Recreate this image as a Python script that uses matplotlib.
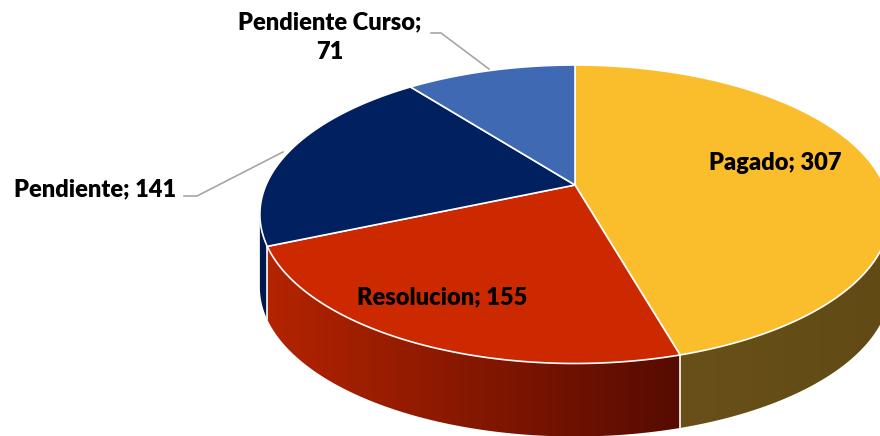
import numpy as np
import matplotlib.pyplot as plt
from matplotlib.patches import Polygon
from matplotlib.colors import to_rgb

# data
labels = ['Pagado', 'Resolucion', 'Pendiente', 'Pendiente Curso']
values = [307, 155, 141, 71]
top_colors = ['#FABD2C', '#CC2900', '#002060', '#3F69B2']
side_light = ['#695018', '#B42400', '#001B52', '#2F5090']
side_dark = ['#614A14', '#560B00', '#001848', '#2F5090']

plt.rcParams['font.family'] = ['Lato', 'DejaVu Sans']

# projection of the tilted disc (perspective fit by eye)
cx, cy = 575, 185
A, B, k = 309, 143.5, 0.196
depth = 73


def proj(phi):
    d = 1 + k*np.cos(phi)
    return cx + A*np.sin(phi)/d, cy - B*np.cos(phi)/d


fig = plt.figure(figsize=(8.8, 4.36), dpi=100)
ax = fig.add_axes([0, 0, 1, 1])

vals = np.array(values, dtype=float)
edges = np.concatenate([[0], np.cumsum(vals)/vals.sum()*2*np.pi])

# visible side range
phi_r = np.arccos(-k)
phi_l = 2*np.pi - phi_r

# side walls, one gradient per slice clipped to its outline
for i in range(len(values)):
    a0 = max(edges[i], phi_r)
    a1 = min(edges[i+1], phi_l)
    if a1 <= a0:
        continue
    ph = np.linspace(a0, a1, 200)
    x, y = proj(ph)
    pts = list(zip(x, y)) + list(zip(x[::-1], y[::-1] + depth))
    poly = Polygon(pts, closed=True, facecolor='none', edgecolor='none', zorder=1)
    ax.add_patch(poly)
    c0 = np.array(to_rgb(side_light[i]))
    c1 = np.array(to_rgb(side_dark[i]))
    t = np.linspace(0, 1, 256)[:, None]
    grad = (c0*(1-t) + c1*t)[None, :, :]
    im = ax.imshow(grad, extent=(x.min()-1, x.max()+1, y.max()+depth+1, y.min()-1),
                   aspect='auto', zorder=1, interpolation='bilinear')
    im.set_clip_path(poly)

# white seams on the side
for e in edges[1:-1]:
    if phi_r < e < phi_l:
        x, y = proj(e)
        ax.plot([x, x], [y, y+depth], color='white', lw=1.2, zorder=2)

# top faces
for i in range(len(values)):
    ph = np.linspace(edges[i], edges[i+1], 200)
    x, y = proj(ph)
    pts = [(cx, cy)] + list(zip(x, y))
    ax.add_patch(Polygon(pts, closed=True, facecolor=top_colors[i],
                         edgecolor='white', lw=1.2, zorder=3))

# labels
kw = dict(fontsize=17, fontweight='heavy', color='black', zorder=5)
ax.text(775, 163, f'{labels[0]}; {values[0]}', ha='center', va='center', **kw)
ax.text(442, 297, f'{labels[1]}; {values[1]}', ha='center', va='center', **kw)
ax.text(95, 189, f'{labels[2]}; {values[2]}', ha='center', va='center', **kw)
ax.text(330, 37, f'{labels[3]};\n{values[3]}', ha='center', va='center',
        linespacing=1.45, **kw)

# leader lines
ax.plot([184, 197, 283], [196, 196, 152], color='#A6A6A6', lw=1.2, zorder=4)
ax.plot([431, 441, 489], [33, 33, 69], color='#A6A6A6', lw=1.2, zorder=4)

ax.set_xlim(0, 880)
ax.set_ylim(436, 0)
ax.axis('off')

fig.savefig('out.png', dpi=100)
